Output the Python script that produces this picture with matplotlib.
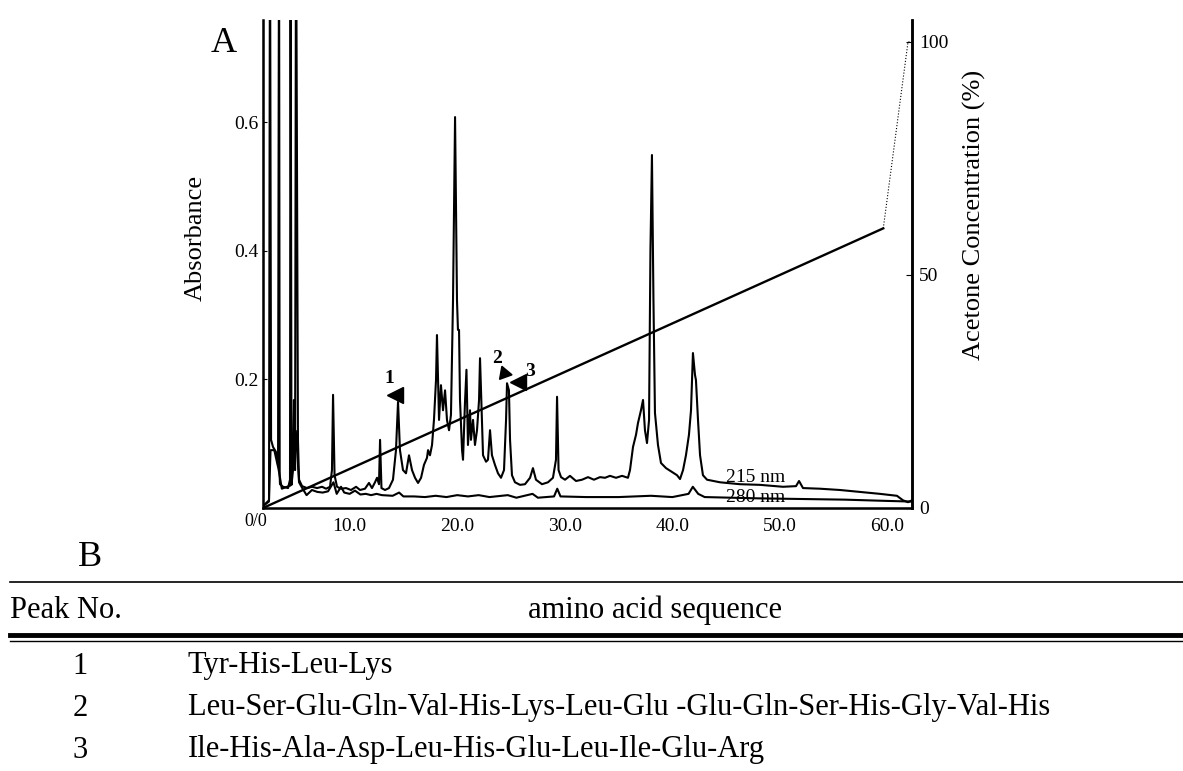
import matplotlib
matplotlib.use("Agg")
import matplotlib.pyplot as plt

plt.rcParams['font.family'] = ['Liberation Serif', 'DejaVu Serif']

# retention time (min) / absorbance, 215 nm trace
t215 = [1.95, 2.51, 2.60, 2.70, 2.88, 3.16, 3.35, 3.44, 3.50, 3.53, 3.81, 4.28, 4.46, 4.51, 4.60, 4.74, 4.83,
        4.93, 5.02, 5.20, 5.30, 5.58, 6.04, 6.51, 6.97, 7.44, 7.81, 8.18, 8.36, 8.46, 8.60, 8.83,
        9.20, 9.67, 10.13, 10.60, 10.97, 11.43, 11.80, 12.08, 12.36, 12.55, 12.73, 12.83, 12.96,
        13.29, 13.66, 14.03, 14.31, 14.50, 14.68, 14.96, 15.24, 15.52, 15.80, 16.08, 16.36, 16.64,
        16.91, 17.19, 17.29, 17.47, 17.66, 17.84, 17.94, 18.03, 18.12, 18.31, 18.49, 18.68, 18.87,
        19.05, 19.24, 19.42, 19.61, 19.80, 19.98, 20.07, 20.17, 20.26, 20.45, 20.54, 20.72, 20.86,
        21.00, 21.19, 21.28, 21.47, 21.65, 21.84, 22.03, 22.12, 22.30, 22.40, 22.68, 22.86, 23.05,
        23.23, 23.51, 23.79, 24.07, 24.35, 24.54, 24.63, 24.81, 24.91, 25.09, 25.37, 25.84, 26.30,
        26.77, 27.04, 27.32, 27.88, 28.44, 28.90, 29.18, 29.28, 29.42, 29.65, 30.02, 30.48, 31.04,
        31.60, 32.16, 32.71, 33.27, 33.74, 34.20, 34.76, 35.32, 35.87, 36.06, 36.34, 36.62, 36.80,
        37.08, 37.27, 37.45, 37.64, 37.83, 37.96, 38.10, 38.24, 38.38, 38.66, 38.94, 39.41, 39.96,
        40.43, 40.71, 40.99, 41.26, 41.54, 41.73, 41.91, 42.10, 42.19, 42.38, 42.57, 42.84, 43.22,
        44.42, 46.28, 48.14, 50.28, 51.49, 51.77, 52.14, 53.72, 55.58, 57.43, 59.29, 60.87, 61.43,
        61.90, 62.27]
a215 = [0.003, 0.012, 0.95, 0.106, 0.095, 0.087, 0.067, 0.95, 0.050, 0.037, 0.033, 0.031, 0.044, 0.95, 0.036, 0.059, 0.168,
        0.059, 0.95, 0.106, 0.044, 0.034, 0.031, 0.033, 0.031, 0.033, 0.030, 0.033, 0.059, 0.176, 0.051, 0.033,
        0.030, 0.031, 0.028, 0.033, 0.028, 0.030, 0.039, 0.031, 0.040, 0.047, 0.037, 0.106, 0.031,
        0.028, 0.031, 0.044, 0.090, 0.165, 0.090, 0.059, 0.054, 0.082, 0.059, 0.047, 0.039, 0.047,
        0.067, 0.078, 0.090, 0.082, 0.098, 0.137, 0.168, 0.199, 0.269, 0.137, 0.191, 0.152, 0.183,
        0.137, 0.121, 0.145, 0.323, 0.608, 0.323, 0.277, 0.277, 0.168, 0.090, 0.075, 0.163, 0.215,
        0.098, 0.152, 0.106, 0.137, 0.098, 0.121, 0.168, 0.233, 0.137, 0.082, 0.072, 0.075, 0.121,
        0.082, 0.067, 0.054, 0.047, 0.059, 0.137, 0.194, 0.183, 0.106, 0.051, 0.040, 0.036, 0.037,
        0.047, 0.062, 0.044, 0.037, 0.040, 0.047, 0.075, 0.173, 0.059, 0.048, 0.044, 0.050, 0.042,
        0.044, 0.048, 0.044, 0.048, 0.047, 0.050, 0.047, 0.050, 0.047, 0.059, 0.095, 0.114, 0.132,
        0.152, 0.168, 0.121, 0.101, 0.137, 0.401, 0.549, 0.323, 0.148, 0.098, 0.070, 0.062, 0.056,
        0.051, 0.045, 0.059, 0.082, 0.114, 0.152, 0.241, 0.207, 0.199, 0.137, 0.082, 0.051, 0.044,
        0.040, 0.037, 0.036, 0.033, 0.034, 0.042, 0.031, 0.030, 0.028, 0.025, 0.022, 0.019, 0.012,
        0.009, 0.012]

# 280 nm trace
t280 = [1.95, 2.50, 2.65, 3.00, 3.40, 3.70, 4.50, 5.00, 5.30, 5.60, 6.00, 6.50, 7.00, 7.50, 8.00,
        8.50, 8.80, 9.20, 9.50, 10.0, 10.5, 11.0, 11.5, 12.0, 12.5, 13.0, 14.0, 14.6, 15.0, 16.0,
        17.0, 18.0, 19.0, 20.0, 21.0, 22.0, 23.0, 24.7, 25.5, 27.0, 27.5, 29.0, 29.3, 29.6, 32.0,
        35.0, 38.0, 40.0, 41.5, 41.9, 42.4, 43.0, 48.0, 52.0, 56.0, 60.0, 62.27]
a280 = [0.003, 0.010, 0.090, 0.090, 0.060, 0.030, 0.035, 0.120, 0.040, 0.031, 0.020, 0.028, 0.025, 0.024, 0.026,
        0.040, 0.022, 0.033, 0.024, 0.022, 0.027, 0.021, 0.022, 0.020, 0.022, 0.020, 0.019, 0.024, 0.018, 0.018,
        0.017, 0.019, 0.017, 0.020, 0.018, 0.020, 0.017, 0.020, 0.016, 0.022, 0.016, 0.018, 0.030, 0.018, 0.017,
        0.017, 0.019, 0.017, 0.022, 0.033, 0.022, 0.017, 0.015, 0.014, 0.013, 0.011, 0.010]

# acetone gradient (%)
grad_t = [1.95, 59.6]
grad_pct = [0, 60]
wash_t = [59.6, 61.9, 62.27]
wash_pct = [60, 100, 100]

peak_labels = ['1', '2', '3']
peak_t = [14.2, 24.35, 25.65]
peak_a = [0.176, 0.21, 0.196]

peak_no = ['1', '2', '3']
sequences = ['Tyr-His-Leu-Lys',
             'Leu-Ser-Glu-Gln-Val-His-Lys-Leu-Glu -Glu-Gln-Ser-His-Gly-Val-His',
             'Ile-His-Ala-Asp-Leu-His-Glu-Leu-Ile-Glu-Arg']

W, H = 1183, 771
fig = plt.figure(figsize=(W / 100, H / 100), dpi=100)


def box(x0, y0, x1, y1):
    return [x0 / W, 1 - y1 / H, (x1 - x0) / W, (y1 - y0) / H]


ax = fig.add_axes(box(263, 20, 912, 508))
ax.plot(t215, a215, color='black', lw=1.5)
ax.plot(t280, a280, color='black', lw=1.5)
ax.set_xlim(1.95, 62.27)
ax.set_ylim(0, 0.759)
ax.spines['top'].set_visible(False)
for s in ['left', 'right', 'bottom']:
    ax.spines[s].set_linewidth(1.8)
ax.set_xticks([10, 20, 30, 40, 50, 60])
ax.set_xticklabels(['10.0', '20.0', '30.0', '40.0', '50.0', '60.0'])
ax.set_yticks([0.2, 0.4, 0.6])
ax.set_yticklabels(['0.2', '0.4', '0.6'])
ax.tick_params(axis='x', length=0, pad=7, labelsize=14)
ax.tick_params(axis='y', length=3, direction='in', pad=3, labelsize=14)
ax.set_ylabel('Absorbance', fontsize=19)
ax.yaxis.set_label_coords(-0.086, 0.553)

ax.text(47.7, 0.047, '215 nm', fontsize=14, ha='center', va='center')
ax.text(47.7, 0.017, '280 nm', fontsize=14, ha='center', va='center')

# peak markers
markers = ['<', (3, 0, -100), '<']
text_dx = [-0.5, -0.6, 1.15]
text_dy = [0.026, 0.022, 0.016]
for lab, t, a, m, dx, dy in zip(peak_labels, peak_t, peak_a, markers, text_dx, text_dy):
    ax.plot([t], [a], marker=m, color='black', markersize=11, linestyle='none')
    ax.text(t + dx, a + dy, lab, fontsize=14, ha='center', va='center', fontweight='bold')

ax2 = ax.twinx()
ax2.plot(grad_t, grad_pct, color='black', lw=1.7)
ax2.plot(wash_t, wash_pct, color='black', lw=0.8, linestyle=':')
ax2.set_ylim(0, 104.7)
ax2.spines['top'].set_visible(False)
ax2.spines['right'].set_linewidth(1.8)
ax2.set_yticks([0, 50, 100])
ax2.set_yticklabels(['0', '50', '100'])
ax2.tick_params(axis='y', length=4, direction='in', pad=5, labelsize=14)
ax2.set_ylabel('Acetone Concentration (%)', fontsize=19)
ax2.yaxis.set_label_coords(1.079, 0.600)

# overlay in pixel coordinates for the panel letters and the table
ov = fig.add_axes([0, 0, 1, 1], zorder=-1)
ov.set_xlim(0, W)
ov.set_ylim(H, 0)
ov.axis('off')
ov.text(224, 43, 'A', fontsize=26, ha='center', va='center')
ov.text(90, 557, 'B', fontsize=26, ha='center', va='center')
ov.text(256, 522, '0/0', fontsize=13, ha='center', va='center')

ov.plot([10, W], [582, 582], color='black', lw=1.2)
ov.plot([10, W], [635, 635], color='black', lw=3.5)
ov.plot([10, W], [640.5, 640.5], color='black', lw=1.0)
ov.text(10, 610, 'Peak No.', fontsize=22, ha='left', va='center')
ov.text(655, 610, 'amino acid sequence', fontsize=22, ha='center', va='center')
row_y = [666, 708, 750]
for y, n, s in zip(row_y, peak_no, sequences):
    ov.text(80, y, n, fontsize=22, ha='center', va='center')
    ov.text(188, y, s, fontsize=22, ha='left', va='center')

fig.savefig('out.png', dpi=100)
